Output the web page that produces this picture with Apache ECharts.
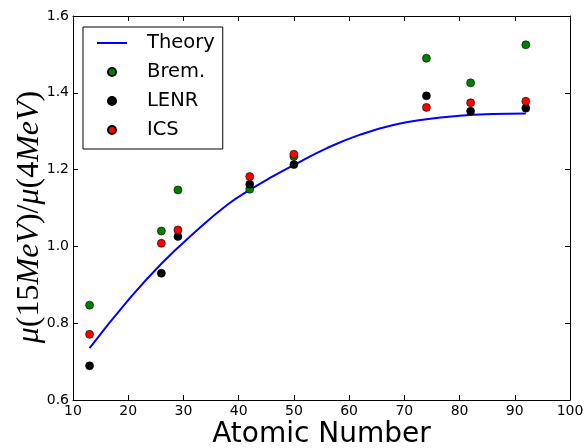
<!DOCTYPE html>
<html>
<head>
<meta charset="utf-8">
<script src="https://cdn.jsdelivr.net/npm/echarts@6/dist/echarts.min.js"></script>
<style>
html,body{margin:0;padding:0;background:#fff;}
#chart{width:586px;height:448px;}
</style>
</head>
<body>
<div id="chart"></div>
<script>
// Atomic numbers of the measured targets
const atomicNumbers = [13, 26, 29, 42, 50, 74, 82, 92];
const bremValues = [0.847, 1.040, 1.147, 1.149, 1.234, 1.490, 1.426, 1.525];
const lenrValues = [0.689, 0.930, 1.026, 1.162, 1.213, 1.392, 1.352, 1.360];
const icsValues  = [0.771, 1.008, 1.043, 1.182, 1.240, 1.362, 1.374, 1.378];
// Theory curve
const theoryZ      = [13, 20, 26, 32, 38, 42, 46, 50, 56, 62, 68, 74, 80, 86, 92];
const theoryValues = [0.735, 0.860, 0.955, 1.036, 1.109, 1.147, 1.181, 1.212, 1.256, 1.291, 1.316, 1.331, 1.340, 1.3445, 1.346];
const xTicks = [10, 100, 10]; // min, max, step
const yTicks = [0.6, 1.6, 0.2];

function pairs(xs, ys) { return xs.map((x, i) => [x, ys[i]]); }

const chart = echarts.init(document.getElementById('chart'), null, {renderer: 'canvas'});
const sans = 'DejaVu Sans';
const axisCommon = {
  axisLine: {show: true, onZero: false, lineStyle: {color: '#000', width: 1}},
  axisTick: {show: true, inside: true, length: 5, lineStyle: {color: '#000', width: 1}},
  splitLine: {show: false}
};
const markerStyle = c => ({color: c, borderColor: '#000', borderWidth: 0.6, opacity: 1});

chart.setOption({
  animation: false,
  backgroundColor: '#fff',
  grid: {left: 73, right: 16, top: 16, bottom: 48, outerBoundsMode: 'none', containLabel: false},
  legend: {
    orient: 'vertical',
    left: 83, top: 27,
    padding: [6, 8, 9, 14],
    borderColor: '#000', borderWidth: 1, borderRadius: 0,
    backgroundColor: '#fff',
    itemWidth: 30, itemHeight: 8, itemGap: 9,
    textStyle: {fontFamily: sans, fontSize: 19.5, color: '#000', lineHeight: 20, padding: [0, 0, 0, 15]},
    data: [{name: 'Theory', icon: 'path://M0,0L30,0L30,2L0,2Z'}, 'Brem.', 'LENR', 'ICS']
  },
  xAxis: [
    Object.assign({
      type: 'value', min: xTicks[0], max: xTicks[1], interval: xTicks[2], position: 'bottom',
      axisLabel: {color: '#000', fontFamily: sans, fontSize: 14, margin: 4},
      name: 'Atomic Number', nameLocation: 'middle', nameGap: 21, nameMoveOverlap: false,
      nameTextStyle: {fontFamily: sans, fontSize: 28, color: '#000', lineHeight: 28}
    }, axisCommon),
    Object.assign({
      type: 'value', min: xTicks[0], max: xTicks[1], interval: xTicks[2], position: 'top',
      axisLabel: {show: false}
    }, axisCommon)
  ],
  yAxis: [
    Object.assign({
      type: 'value', min: yTicks[0], max: yTicks[1], interval: yTicks[2], position: 'left',
      axisLabel: {color: '#000', fontFamily: sans, fontSize: 14, margin: 4, formatter: v => v.toFixed(1)},
      name: '{i|μ}{n|(15}{i|MeV}{n|)/}{i|μ}{n|(4}{i|MeV}{n|)}',
      nameLocation: 'middle', nameRotate: 90, nameGap: 27, nameMoveOverlap: false,
      nameTextStyle: {
        color: '#000',
        padding: [0, 18, 0, 0],
        rich: {
          i: {fontFamily: 'Liberation Serif', fontStyle: 'italic', fontSize: 32, color: '#000'},
          n: {fontFamily: 'Liberation Serif', fontSize: 32, color: '#000'}
        }
      }
    }, axisCommon),
    Object.assign({
      type: 'value', min: yTicks[0], max: yTicks[1], interval: yTicks[2], position: 'right',
      axisLabel: {show: false}
    }, axisCommon)
  ],
  series: [
    {
      name: 'Theory', type: 'line', data: pairs(theoryZ, theoryValues),
      smooth: 0.5, symbol: 'none', showSymbol: false,
      lineStyle: {color: '#0000ff', width: 2}, itemStyle: {color: '#0000ff'}, z: 2
    },
    {name: 'Brem.', type: 'scatter', data: pairs(atomicNumbers, bremValues), symbolSize: 8, itemStyle: markerStyle('#008000'), z: 3},
    {name: 'LENR', type: 'scatter', data: pairs(atomicNumbers, lenrValues), symbolSize: 8, itemStyle: markerStyle('#000000'), z: 3},
    {name: 'ICS', type: 'scatter', data: pairs(atomicNumbers, icsValues), symbolSize: 8, itemStyle: markerStyle('#ff0000'), z: 3}
  ]
});
</script>
</body>
</html>
